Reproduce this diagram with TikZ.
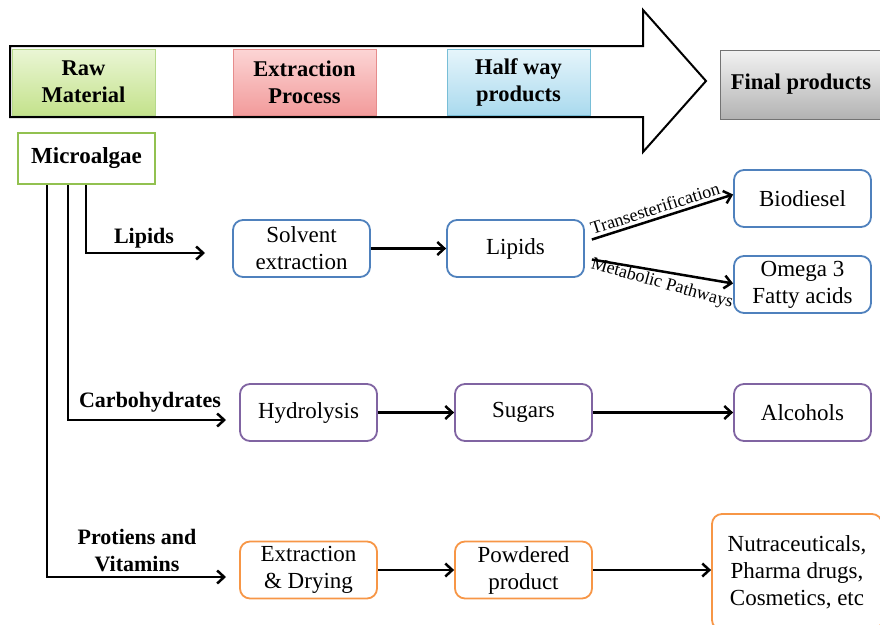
\documentclass[tikz,border=0pt]{standalone}
\usepackage{fontspec}
\setmainfont{Liberation Serif}
\usetikzlibrary{arrows.meta}
\definecolor{bluebd}{HTML}{4F81BD}
\definecolor{purplebd}{HTML}{8064A2}
\definecolor{orangebd}{HTML}{F79646}
\definecolor{greenbd}{HTML}{92C150}
\definecolor{rawbd}{HTML}{B5D98A}
\definecolor{rawtop}{HTML}{EAF6D5}
\definecolor{rawbot}{HTML}{C4E28C}
\definecolor{extbd}{HTML}{E68C8C}
\definecolor{exttop}{HTML}{FCD5D5}
\definecolor{extbot}{HTML}{F29B9B}
\definecolor{halfbd}{HTML}{78BED7}
\definecolor{halftop}{HTML}{E6F5FB}
\definecolor{halfbot}{HTML}{AADAEE}
\tikzset{
  rbox/.style={draw, rounded corners=10pt, line width=1.8pt, fill=white, align=center,
    minimum width=137pt, minimum height=57pt, inner sep=1pt},
  hdr/.style={draw, line width=0.6pt, align=center, minimum width=143pt, minimum height=66pt,
    inner sep=1pt, font=\fontsize{22.5}{27}\selectfont\bfseries},
  conn/.style={line width=2.5pt, -{Straight Barb[length=7pt,width=13pt,line width=2.5pt]}},
  lbl/.style={font=\fontsize{22}{27}\selectfont\bfseries, align=center},
  small/.style={font=\fontsize{18}{21}\selectfont, sloped, inner sep=2pt}
}
\begin{document}
\begin{tikzpicture}[x=1pt,y=-1pt,font=\fontsize{23}{27}\selectfont]
\useasboundingbox (0,0) rectangle (880,624);
\clip (0,0) rectangle (880,624);
% big arrow
\draw[line width=2pt, fill=white, line join=miter]
  (10,46) -- (643,46) -- (643,10) -- (706,81) -- (643,152) -- (643,117) -- (10,117) -- cycle;
\node[hdr, draw=rawbd, top color=rawtop, bottom color=rawbot] (raw) at (83.5,82) {Raw\\Material};
\node[hdr, draw=extbd, top color=exttop, bottom color=extbot] (ext) at (304.5,82) {Extraction\\Process};
\node[hdr, draw=halfbd, top color=halftop, bottom color=halfbot] (half) at (518.5,82) {Half way\\products};
\node[hdr, draw=black!55, minimum width=162pt, minimum height=69pt, top color=black!5, bottom color=black!30] (final) at (801,84.5) {Final products};
% microalgae
\node[draw=greenbd, line width=2pt, fill=white, minimum width=137pt, minimum height=51pt,
  font=\fontsize{23}{27}\selectfont\bfseries] (micro) at (86.5,158.5) {Microalgae};
% lipid row
\node[rbox, draw=bluebd] (solv) at (301.5,248.5) {Solvent\\extraction};
\node[rbox, draw=bluebd] (lip) at (515.5,248.5) {Lipids};
\node[rbox, draw=bluebd] (bio) at (802.5,198.5) {Biodiesel};
\node[rbox, draw=bluebd] (omega) at (802.5,284.5) {Omega 3\\Fatty acids};
% carbohydrate row
\node[rbox, draw=purplebd] (hyd) at (308.5,412.5) {Hydrolysis};
\node[rbox, draw=purplebd] (sug) at (523.5,412.5) {Sugars};
\node[rbox, draw=purplebd] (alc) at (802.5,412.5) {Alcohols};
% protein row
\node[rbox, draw=orangebd] (edry) at (308.5,570) {Extraction\\\& Drying};
\node[rbox, draw=orangebd] (pow) at (523.5,570) {Powdered\\product};
\node[rbox, draw=orangebd, minimum width=170pt, minimum height=116pt] (nut) at (797,572) {Nutraceuticals,\\Pharma drugs,\\Cosmetics, etc};
% free ends
\coordinate (e1) at (205,253);
\coordinate (e2) at (226,420);
\coordinate (e3) at (226,577);
% branches from microalgae
\draw[conn] ([xshift=-0.5pt]micro.south) |- (e1);
\draw[conn] ([xshift=-18.5pt]micro.south) |- (e2);
\draw[conn] ([xshift=-39.5pt]micro.south) |- (e3);
\node[lbl] (l1) at (144,238) {Lipids};
\node[lbl] (l2) at (150,402) {Carbohydrates};
\node[lbl] (l3) at (137,551) {Protiens and\\Vitamins};
% row connectors
\draw[conn] (solv) -- (lip);
\draw[conn] ([shift={(7pt,9pt)}]lip.east) -- node[small, above, pos=0.47, yshift=1pt] {Transesterification} ([yshift=4pt]bio.west);
\draw[conn] ([shift={(7pt,-11pt)}]lip.east) -- node[small, below, pos=0.52, rotate=-6, yshift=-1pt] {Metabolic Pathways} ([yshift=1pt]omega.west);
\draw[conn] (hyd) -- (sug);
\draw[conn] (sug) -- (alc);
\draw[conn] (edry) -- (pow);
\draw[conn] (pow) -- (nut.west |- pow.east);
\end{tikzpicture}
\end{document}
